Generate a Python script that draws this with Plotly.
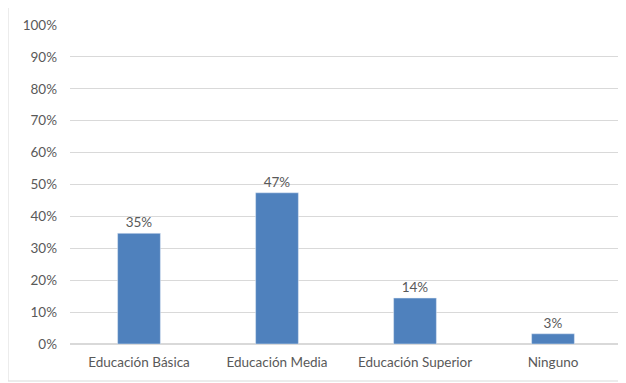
import plotly.graph_objects as go

categories = ["Educación Básica", "Educación Media", "Educación Superior", "Ninguno"]
values = [0.347, 0.474, 0.144, 0.032]

OFF = 8  # browser body margin
W, H = 626 - OFF, 383 - OFF
L, R, T, B = 70 - OFF, 4 - OFF + OFF, 25 - OFF, 39 - OFF
# plot area in window coords: x 70..622, y 25..344
pw = 622 - 70
ph = 344 - 25
R = W - L - pw
B = H - T - ph

fig = go.Figure(go.Bar(
    x=categories, y=values, marker_color="#4f81bd", width=0.31,
    texttemplate="%{y:.0%}", textposition="outside",
    textfont=dict(color="#595959", size=13.5), cliponaxis=False,
))

def px_x(p):
    return (p - 70) / pw

def px_y(p):
    return (344 - p) / ph

fig.update_layout(
    width=W, height=H, margin=dict(l=L, r=R, t=T, b=B),
    paper_bgcolor="white", plot_bgcolor="white",
    font=dict(family="Lato, Open Sans, sans-serif", size=13.5, color="#595959"),
    showlegend=False,
    shapes=[dict(type="rect", xref="paper", yref="paper",
                 x0=px_x(8), x1=px_x(623), y0=px_y(381), y1=px_y(5),
                 line=dict(color="#d9d9d9", width=1), fillcolor="rgba(0,0,0,0)")],
)
fig.update_yaxes(range=[0, 1], dtick=0.1, tickformat=".0%", showgrid=True,
                 gridcolor="#d9d9d9", zeroline=True, zerolinecolor="#d9d9d9",
                 ticks="", showline=False, ticklabelstandoff=12,
                 tickfont=dict(size=13.5, color="#595959"))
fig.update_xaxes(showgrid=False, ticks="", showline=False, ticklabelstandoff=8,
                 tickfont=dict(size=13.5, color="#595959"))

fig.write_html("out.html")
